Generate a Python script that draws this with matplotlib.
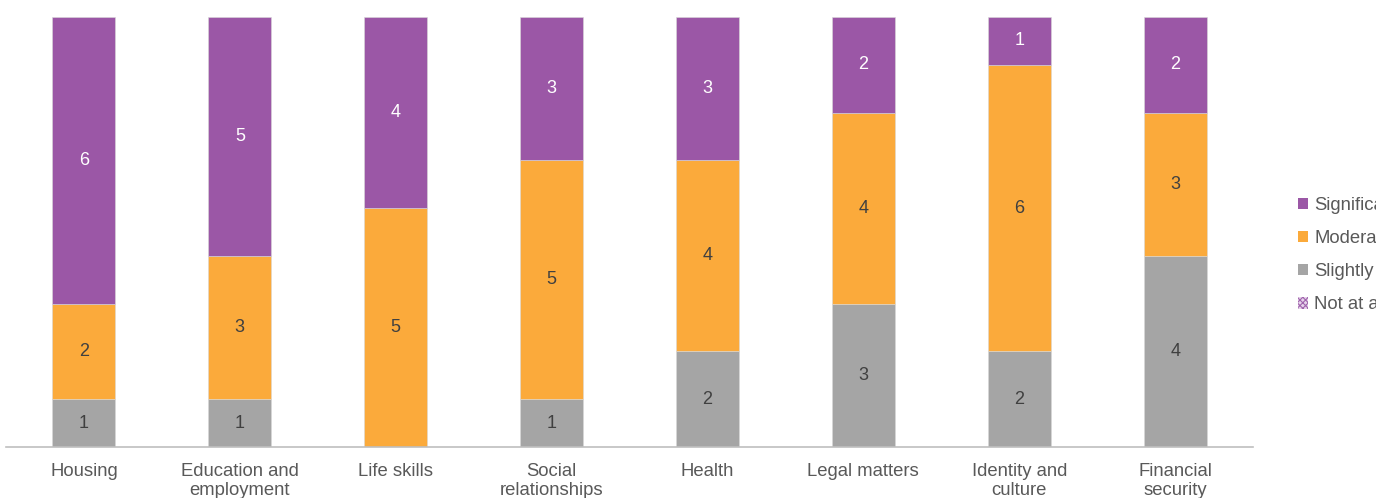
import numpy as np
import matplotlib
matplotlib.use('Agg')
from matplotlib import pyplot as plt
from matplotlib.patches import Patch

plt.rcParams['font.family'] = ['Liberation Sans', 'DejaVu Sans']
plt.rcParams['hatch.linewidth'] = 0.8

categories = ['Housing', 'Education and\nemployment', 'Life skills', 'Social\nrelationships',
              'Health', 'Legal matters', 'Identity and\nculture', 'Financial\nsecurity']
not_at_all = [0, 0, 0, 0, 0, 0, 0, 0]
slightly = [1, 1, 0, 1, 2, 3, 2, 4]
moderately = [2, 3, 5, 5, 4, 4, 6, 3]
significantly = [6, 5, 4, 3, 3, 2, 1, 2]

series = [
    ('Not at all', not_at_all, 'white', '#404040'),
    ('Slightly', slightly, '#a5a5a5', '#404040'),
    ('Moderately', moderately, '#fbaa3b', '#404040'),
    ('Significantly', significantly, '#9b57a6', 'white'),
]

fig = plt.figure(figsize=(13.76, 4.98), dpi=100)
ax = fig.add_axes([0.00436, 0.1024, 0.9063, 0.8635])

x = np.arange(len(categories))
bottom = np.zeros(len(categories))
for name, vals, colour, txt in series:
    vals = np.array(vals, dtype=float)
    bars = ax.bar(x, vals, width=0.404, bottom=bottom, color=colour,
                  edgecolor='#d9d9d9', linewidth=0.4, label=name)
    labels = [f'{int(v)}' if v > 0 else '' for v in vals]
    ax.bar_label(bars, labels=labels, label_type='center', color=txt, fontsize=13)
    bottom += vals

ax.set_xlim(-0.5, len(categories) - 0.5)
ax.set_ylim(0, 9)
ax.set_yticks([])
ax.set_xticks(x)
ax.set_xticklabels(categories, fontsize=13.3, color='#595959', linespacing=1.15)
ax.tick_params(axis='x', length=0, pad=11.5)
for side in ['top', 'left', 'right']:
    ax.spines[side].set_visible(False)
ax.spines['bottom'].set_color('#bfbfbf')
ax.spines['bottom'].set_linewidth(1.2)

handles = [
    Patch(facecolor='#9b57a6', edgecolor='none', label='Significantly'),
    Patch(facecolor='#fbaa3b', edgecolor='none', label='Moderately'),
    Patch(facecolor='#a5a5a5', edgecolor='none', label='Slightly'),
    Patch(facecolor='#e6d3ea', edgecolor='#a064ad', hatch='xxxxxx', linewidth=0, label='Not at all'),
]
fig.legend(handles=handles, loc='upper left', bbox_to_anchor=(0.943, 0.605),
           frameon=False, fontsize=13.3, labelcolor='#595959',
           handlelength=0.55, handleheight=0.55, handletextpad=0.35,
           labelspacing=0.88, borderpad=0, borderaxespad=0)

fig.savefig('out.png', dpi=100)
